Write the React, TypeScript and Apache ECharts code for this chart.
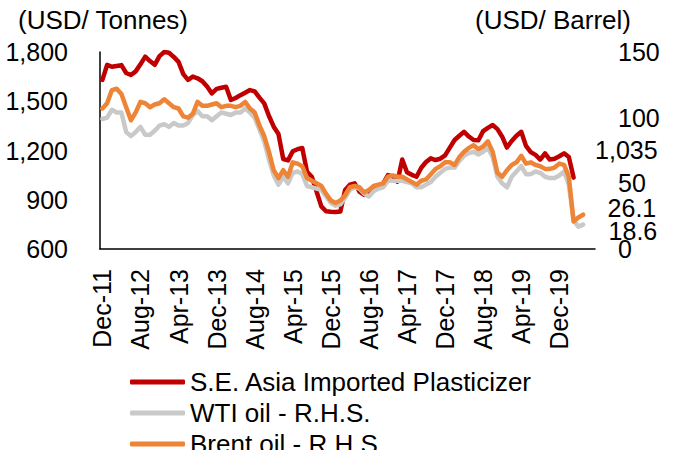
import React, { useEffect, useRef } from 'react';
import * as echarts from 'echarts';

const FONT = '"Liberation Sans", Arial, sans-serif';

const MONTH_NAMES = ['Jan', 'Feb', 'Mar', 'Apr', 'May', 'Jun', 'Jul', 'Aug', 'Sep', 'Oct', 'Nov', 'Dec'];
const categories: string[] = [];
for (let i = 0; i < 104; i++) {
  const m = (11 + i) % 12;
  const y = 11 + Math.floor((11 + i) / 12);
  categories.push(`${MONTH_NAMES[m]}-${String(y).padStart(2, '0')}`);
}

const seriesNames = ['S.E. Asia Imported Plasticizer', 'WTI oil - R.H.S.', 'Brent oil - R.H.S.'];

// S.E. Asia Imported Plasticizer (USD/tonne, left axis)
const plasticizer = [
  1630, 1722, 1710, 1715, 1720, 1672, 1660, 1682, 1725, 1772,
  1745, 1722, 1775, 1800, 1795, 1770, 1740, 1665, 1630, 1650,
  1640, 1622, 1590, 1548, 1575, 1582, 1588, 1508, 1520, 1537,
  1552, 1568, 1560, 1522, 1487, 1410, 1345, 1300, 1148, 1140,
  1195, 1208, 1215, 1070, 1040, 950, 860, 830, 827, 825,
  828, 960, 992, 1000, 950, 930, 955, 979, 972, 1000,
  1050, 1042, 1010, 1145, 1068, 1052, 1040, 1095, 1130, 1152,
  1142, 1150, 1170, 1218, 1264, 1290, 1314, 1285, 1264, 1262,
  1318, 1338, 1355, 1330, 1284, 1218, 1258, 1290, 1314, 1228,
  1190, 1173, 1145, 1183, 1145, 1150, 1165, 1183, 1160, 1035,
];

// WTI oil (USD/barrel, right axis)
const wti = [
  99, 100, 106, 104, 104, 89, 86, 89, 93, 87,
  87, 90, 94, 95, 93, 96, 94, 94, 96, 102,
  105, 101, 101, 98, 101, 104, 103, 102, 104, 104,
  107, 104, 100, 91, 82, 68, 56, 49, 55, 50,
  58, 59, 57, 48, 47, 46, 45, 40, 35, 33,
  34, 39, 45, 47, 46, 42, 40, 44, 46, 47,
  52, 52, 52, 52, 51, 50, 47, 47, 49, 51,
  55, 58, 61, 62, 62, 67, 71, 73, 74, 72,
  74, 77, 70, 55, 50, 47, 55, 59, 63, 57,
  57, 59, 58, 55, 54, 54, 56, 59, 49, 22,
  17, 18.6,
];

// Brent oil (USD/barrel, right axis)
const brent = [
  107, 111, 121, 122, 118, 108, 98, 104, 112, 111,
  108, 110, 111, 114, 111, 108, 107, 101, 100, 103,
  112, 109, 109, 110, 111, 108, 109, 109, 108, 109,
  112, 107, 104, 94, 86, 74, 60, 54, 60, 55,
  66, 65, 63, 54, 52, 50, 48, 42, 37, 35,
  37, 41, 47, 48, 47, 43, 45, 48, 49, 50,
  55, 56, 55, 55, 53, 51, 49, 52, 53, 57,
  61, 63, 66, 66, 64, 70, 74, 77, 79, 76,
  78, 82, 74, 58, 55, 60, 64, 66, 71, 65,
  66, 64, 63, 61, 61, 62, 65, 64, 55, 21,
  24, 26.1,
];

const leftTicks = { min: 600, max: 1800, interval: 300 };
const rightTicks = { min: 0, max: 150, interval: 50 };

const fmt = (v: number) => v.toLocaleString('en-US');

function endMark(values: number[], offset: number[]) {
  const last = values.length - 1;
  return {
    silent: true,
    symbol: 'circle',
    symbolSize: 1,
    itemStyle: { color: 'rgba(0,0,0,0)' },
    label: {
      show: true,
      position: 'right',
      distance: 5,
      offset,
      formatter: fmt(values[last]),
      fontSize: 25,
      fontFamily: FONT,
      color: '#000',
    },
    data: [{ coord: [categories[last], values[last]] }],
  };
}

export default function App() {
  const ref = useRef<HTMLDivElement>(null);
  useEffect(() => {
    if (!ref.current) return;
    const chart = echarts.init(ref.current, null, { renderer: 'svg' });
    const axisLine = { show: true, lineStyle: { color: '#000', width: 1.5 } };
    const legends = seriesNames.map((name, i) => ({
      orient: 'horizontal',
      left: 125,
      top: 364 + i * 31,
      itemWidth: 55,
      itemHeight: 5,
      icon: 'roundRect',
      textStyle: { fontSize: 26, color: '#000', fontFamily: FONT },
      data: [name],
    }));
    chart.setOption({
      animation: false,
      textStyle: { fontFamily: FONT },
      grid: { left: 100, right: 83, top: 52, bottom: 201, containLabel: false, outerBoundsMode: 'none' },
      graphic: [
        { type: 'text', left: 18, top: 7, style: { text: '(USD/ Tonnes)', fontSize: 26, fontFamily: FONT, fill: '#000' } },
        { type: 'text', left: 475, top: 7, style: { text: '(USD/ Barrel)', fontSize: 26, fontFamily: FONT, fill: '#000' } },
      ],
      legend: legends,
      xAxis: {
        type: 'category',
        data: categories,
        boundaryGap: true,
        axisLine,
        axisTick: { show: false },
        splitLine: { show: false },
        axisLabel: { interval: 7, rotate: 90, margin: 20, fontSize: 25, color: '#000', fontFamily: FONT },
      },
      yAxis: [
        {
          type: 'value',
          ...leftTicks,
          axisLine,
          axisTick: { show: false },
          splitLine: { show: false },
          axisLabel: { margin: 32, fontSize: 25, color: '#000', fontFamily: FONT, formatter: (v: number) => fmt(v) },
        },
        {
          type: 'value',
          position: 'right',
          ...rightTicks,
          axisLine: { show: false },
          axisTick: { show: false },
          splitLine: { show: false },
          axisLabel: { margin: 23, fontSize: 25, color: '#000', fontFamily: FONT },
        },
      ],
      series: [
        {
          name: seriesNames[0],
          type: 'line',
          yAxisIndex: 0,
          data: plasticizer,
          showSymbol: false,
          symbol: 'none',
          color: '#C00000',
          lineStyle: { width: 4.5, color: '#C00000', cap: 'round', join: 'round' },
          markPoint: endMark(plasticizer, [16, -28]),
        },
        {
          name: seriesNames[1],
          type: 'line',
          yAxisIndex: 1,
          data: wti,
          showSymbol: false,
          symbol: 'none',
          color: '#C9C9C9',
          lineStyle: { width: 4.5, color: '#C9C9C9', cap: 'round', join: 'round' },
          markPoint: endMark(wti, [20, 6]),
        },
        {
          name: seriesNames[2],
          type: 'line',
          yAxisIndex: 1,
          data: brent,
          showSymbol: false,
          symbol: 'none',
          color: '#EE8435',
          lineStyle: { width: 4.5, color: '#EE8435', cap: 'round', join: 'round' },
          markPoint: endMark(brent, [19, -7]),
        },
      ],
    });
    return () => chart.dispose();
  }, []);
  return <div ref={ref} style={{ width: 678, height: 450, position: 'absolute', left: 0, top: 0 }} />;
}
